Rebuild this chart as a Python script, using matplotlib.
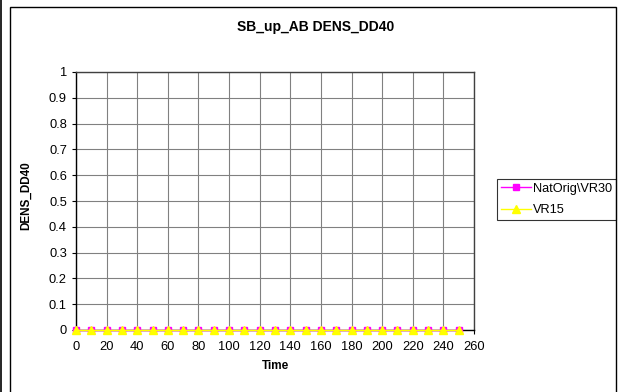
import matplotlib
matplotlib.use("Agg")
import matplotlib.pyplot as plt
import numpy as np
from matplotlib.patches import Rectangle
from matplotlib.lines import Line2D

plt.rcParams['font.family'] = ['Liberation Sans', 'DejaVu Sans']

# данные
time = [0, 10, 20, 30, 40, 50, 60, 70, 80, 90, 100, 110, 120, 130, 140, 150,
        160, 170, 180, 190, 200, 210, 220, 230, 240, 250]
natorig_vr30 = [0] * len(time)
vr15 = [0] * len(time)
xticks = list(range(0, 261, 20))
yticks = [0, 0.1, 0.2, 0.3, 0.4, 0.5, 0.6, 0.7, 0.8, 0.9, 1]

fig = plt.figure(figsize=(6.23, 3.92), dpi=100)
W, H = 623.0, 392.0

# рамка вокруг диаграммы
fig.patches.append(Rectangle((10 / W, -0.1), 606 / W, 1.1 - 7 / H,
                             transform=fig.transFigure, fill=False,
                             edgecolor='black', linewidth=1.0))
fig.lines.append(Line2D([1 / W, 1 / W], [0, 1], transform=fig.transFigure,
                        color='black', linewidth=1.2))

ax = fig.add_axes([76 / W, 62 / H, 398 / W, 258 / H])
ax.plot(time, natorig_vr30, color='#ff00ff', marker='s', markersize=4.5,
        linewidth=1.0, label='NatOrig\\VR30', clip_on=False, zorder=3)
ax.plot(time, vr15, color='#ffff00', marker='^', markersize=6,
        linewidth=1.0, label='VR15', clip_on=False, zorder=4)

ax.set_xlim(0, 260)
ax.set_ylim(0, 1)
ax.set_xticks(xticks)
ax.set_yticks(yticks)
ax.set_yticklabels(['0', '0.1', '0.2', '0.3', '0.4', '0.5', '0.6', '0.7',
                    '0.8', '0.9', '1'])
ax.grid(True, color='#808080', linewidth=0.8)
ax.set_axisbelow(True)
ax.tick_params(axis='both', labelsize=9.3, direction='out', length=3,
               width=0.8, colors='black')
ax.tick_params(axis='x', pad=5)
for s in ['left', 'bottom']:
    ax.spines[s].set_color('black')
    ax.spines[s].set_linewidth(1.0)
for s in ['top', 'right']:
    ax.spines[s].set_color('#404040')
    ax.spines[s].set_linewidth(1.0)

ax.set_xlabel('Time', fontsize=8.5, fontweight='bold', labelpad=5)
ax.set_ylabel('DENS_DD40', fontsize=8.5, fontweight='bold', labelpad=6)
ax.yaxis.set_label_coords(-0.11, 0.52)
fig.text(316 / W, 1 - 27 / H, 'SB_up_AB DENS_DD40', ha='center', va='center',
         fontsize=10, fontweight='bold')

leg = ax.legend(loc='upper left', bbox_to_anchor=(497 / W, 1 - 179 / H),
                bbox_transform=fig.transFigure, fontsize=9.2, frameon=True,
                fancybox=False, edgecolor='black', borderpad=0.3,
                handlelength=2.4, handletextpad=0.15, labelspacing=0.75,
                borderaxespad=0)
leg.get_frame().set_linewidth(0.8)

fig.savefig('out.png', dpi=100)
